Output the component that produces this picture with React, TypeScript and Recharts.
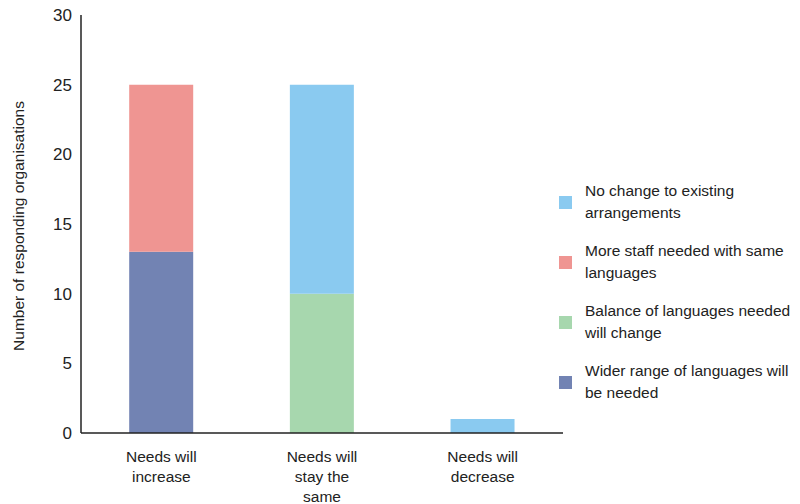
import { BarChart, Bar, XAxis, YAxis } from 'recharts';

const categories = ['Needs will increase', 'Needs will stay the same', 'Needs will decrease'];
const wider = [13, 0, 0];
const balance = [0, 10, 0];
const moreStaff = [12, 0, 0];
const noChange = [0, 15, 1];
const yTicks = [0, 5, 10, 15, 20, 25, 30];

const series = [
  { key: 'wider', name: 'Wider range of languages will be needed', color: '#7283b3', values: wider },
  { key: 'balance', name: 'Balance of languages needed will change', color: '#a7d7ae', values: balance },
  { key: 'moreStaff', name: 'More staff needed with same languages', color: '#ef9592', values: moreStaff },
  { key: 'noChange', name: 'No change to existing arrangements', color: '#8acaf0', values: noChange },
];

const data = categories.map((name, i) => {
  const row: any = { name };
  series.forEach((s) => (row[s.key] = s.values[i]));
  return row;
});

const FONT = '"Liberation Sans", Arial, sans-serif';

function wrap(label: string, max: number) {
  const words = label.split(' ');
  const lines: string[] = [];
  let cur = '';
  words.forEach((w) => {
    const next = cur ? cur + ' ' + w : w;
    if (next.length > max && cur) {
      lines.push(cur);
      cur = w;
    } else cur = next;
  });
  if (cur) lines.push(cur);
  return lines;
}

const XTick = (props: any) => {
  const { x, y, payload } = props;
  const lines = wrap(payload.value, 10);
  return (
    <text x={x} y={y} textAnchor="middle" fill="#222" fontSize={15.5} fontFamily={FONT}>
      {lines.map((l, i) => (
        <tspan key={i} x={x} dy={i === 0 ? 21 : 20}>
          {l}
        </tspan>
      ))}
    </text>
  );
};

function ChartLegend() {
  return (
    <div
      style={{
        position: 'absolute',
        left: 559,
        top: 172,
        width: 241,
        fontFamily: FONT,
        fontSize: 15.5,
        color: '#222',
        lineHeight: '22px',
      }}
    >
      {[...series].reverse().map((s) => (
        <div key={s.key} style={{ display: 'flex', alignItems: 'center', height: 60 }}>
          <div style={{ width: 13, height: 13, background: s.color, marginRight: 13, flex: 'none' }} />
          <div style={{ width: 210 }}>{s.name}</div>
        </div>
      ))}
    </div>
  );
}

export default function App() {
  return (
    <div style={{ position: 'absolute', left: 0, top: 0, width: 800, height: 504, background: '#fff' }}>
      <BarChart
        width={800}
        height={504}
        data={data}
        barCategoryGap="30%"
        margin={{ top: 15, right: 237, bottom: 11, left: 31 }}
      >
        <XAxis
          dataKey="name"
          tick={<XTick />}
          tickLine={false}
          axisLine={{ stroke: '#222', strokeWidth: 1.5 }}
          height={60}
          interval={0}
        />
        <YAxis
          domain={[0, 30]}
          ticks={yTicks}
          width={50}
          tickLine={false}
          tickSize={0}
          tickMargin={9}
          axisLine={{ stroke: '#222', strokeWidth: 1.5 }}
          tick={{ fill: '#222', fontSize: 17, fontFamily: FONT }}
          label={{
            content: () => (
              <text
                x={24}
                y={226}
                transform="rotate(-90 24 226)"
                textAnchor="middle"
                fill="#222"
                fontSize={15.5}
                fontFamily={FONT}
              >
                Number of responding organisations
              </text>
            ),
          }}
        />
        {series.map((s) => (
          <Bar key={s.key} dataKey={s.key} name={s.name} stackId="a" fill={s.color} isAnimationActive={false} />
        ))}
      </BarChart>
      <ChartLegend />
    </div>
  );
}
